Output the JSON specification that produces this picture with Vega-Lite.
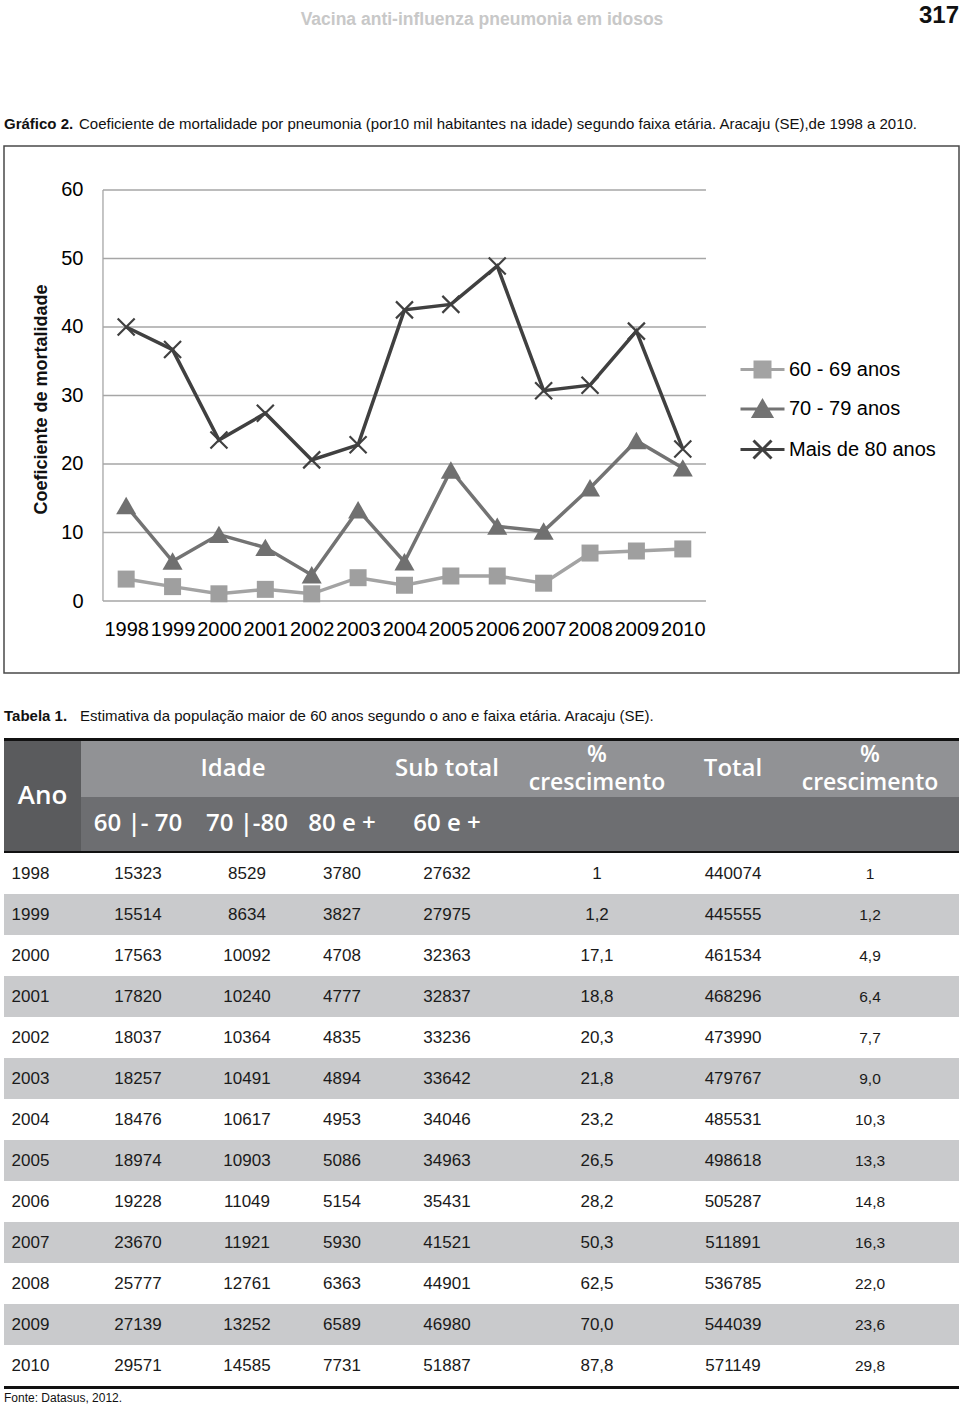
{
  "$schema": "https://vega.github.io/schema/vega-lite/v6.json",
  "background": "#ffffff",
  "padding": {"left": 3, "top": 4, "right": 2, "bottom": 0},
  "spacing": 0,
  "config": {
    "view": {"stroke": null},
    "concat": {"spacing": 0},
    "legend": {"rowPadding": 4.5, "padding": 0},
    "title": {"offset": 0, "anchor": "start", "font": "Liberation Sans", "fontSize": 15, "fontWeight": "normal", "color": "#111111"},
    "axis": {"grid": false, "ticks": false, "domain": false, "labelFont": "Liberation Sans", "labelFontSize": 20, "labelColor": "#000000"}
  },
  "datasets": {
    "serie": [
      {"ano": 1998, "grupo": "60 - 69 anos", "coef": 3.2},
      {"ano": 1999, "grupo": "60 - 69 anos", "coef": 2.1},
      {"ano": 2000, "grupo": "60 - 69 anos", "coef": 1.05},
      {"ano": 2001, "grupo": "60 - 69 anos", "coef": 1.7},
      {"ano": 2002, "grupo": "60 - 69 anos", "coef": 1.05},
      {"ano": 2003, "grupo": "60 - 69 anos", "coef": 3.4},
      {"ano": 2004, "grupo": "60 - 69 anos", "coef": 2.3},
      {"ano": 2005, "grupo": "60 - 69 anos", "coef": 3.65},
      {"ano": 2006, "grupo": "60 - 69 anos", "coef": 3.65},
      {"ano": 2007, "grupo": "60 - 69 anos", "coef": 2.6},
      {"ano": 2008, "grupo": "60 - 69 anos", "coef": 7.0},
      {"ano": 2009, "grupo": "60 - 69 anos", "coef": 7.3},
      {"ano": 2010, "grupo": "60 - 69 anos", "coef": 7.6},
      {"ano": 1998, "grupo": "70 - 79 anos", "coef": 13.9},
      {"ano": 1999, "grupo": "70 - 79 anos", "coef": 5.8},
      {"ano": 2000, "grupo": "70 - 79 anos", "coef": 9.7},
      {"ano": 2001, "grupo": "70 - 79 anos", "coef": 7.8},
      {"ano": 2002, "grupo": "70 - 79 anos", "coef": 3.8},
      {"ano": 2003, "grupo": "70 - 79 anos", "coef": 13.3},
      {"ano": 2004, "grupo": "70 - 79 anos", "coef": 5.7},
      {"ano": 2005, "grupo": "70 - 79 anos", "coef": 19.1},
      {"ano": 2006, "grupo": "70 - 79 anos", "coef": 10.9},
      {"ano": 2007, "grupo": "70 - 79 anos", "coef": 10.2},
      {"ano": 2008, "grupo": "70 - 79 anos", "coef": 16.5},
      {"ano": 2009, "grupo": "70 - 79 anos", "coef": 23.4},
      {"ano": 2010, "grupo": "70 - 79 anos", "coef": 19.4},
      {"ano": 1998, "grupo": "Mais de 80 anos", "coef": 40.0},
      {"ano": 1999, "grupo": "Mais de 80 anos", "coef": 36.7},
      {"ano": 2000, "grupo": "Mais de 80 anos", "coef": 23.5},
      {"ano": 2001, "grupo": "Mais de 80 anos", "coef": 27.4},
      {"ano": 2002, "grupo": "Mais de 80 anos", "coef": 20.6},
      {"ano": 2003, "grupo": "Mais de 80 anos", "coef": 22.8},
      {"ano": 2004, "grupo": "Mais de 80 anos", "coef": 42.5},
      {"ano": 2005, "grupo": "Mais de 80 anos", "coef": 43.3},
      {"ano": 2006, "grupo": "Mais de 80 anos", "coef": 48.9},
      {"ano": 2007, "grupo": "Mais de 80 anos", "coef": 30.7},
      {"ano": 2008, "grupo": "Mais de 80 anos", "coef": 31.5},
      {"ano": 2009, "grupo": "Mais de 80 anos", "coef": 39.4},
      {"ano": 2010, "grupo": "Mais de 80 anos", "coef": 22.2}
    ],
    "grade": [{"v": 0}, {"v": 10}, {"v": 20}, {"v": 30}, {"v": 40}, {"v": 50}, {"v": 60}],
    "crescimento": [{"rotulo": "%", "linha": 1}, {"rotulo": "crescimento", "linha": 2}],
    "tabela": [
      {"ano": 1998, "p60": "15323", "p70": "8529", "p80": "3780", "sub": "27632", "pc1": "1", "total": "440074", "pc2": "1"},
      {"ano": 1999, "p60": "15514", "p70": "8634", "p80": "3827", "sub": "27975", "pc1": "1,2", "total": "445555", "pc2": "1,2"},
      {"ano": 2000, "p60": "17563", "p70": "10092", "p80": "4708", "sub": "32363", "pc1": "17,1", "total": "461534", "pc2": "4,9"},
      {"ano": 2001, "p60": "17820", "p70": "10240", "p80": "4777", "sub": "32837", "pc1": "18,8", "total": "468296", "pc2": "6,4"},
      {"ano": 2002, "p60": "18037", "p70": "10364", "p80": "4835", "sub": "33236", "pc1": "20,3", "total": "473990", "pc2": "7,7"},
      {"ano": 2003, "p60": "18257", "p70": "10491", "p80": "4894", "sub": "33642", "pc1": "21,8", "total": "479767", "pc2": "9,0"},
      {"ano": 2004, "p60": "18476", "p70": "10617", "p80": "4953", "sub": "34046", "pc1": "23,2", "total": "485531", "pc2": "10,3"},
      {"ano": 2005, "p60": "18974", "p70": "10903", "p80": "5086", "sub": "34963", "pc1": "26,5", "total": "498618", "pc2": "13,3"},
      {"ano": 2006, "p60": "19228", "p70": "11049", "p80": "5154", "sub": "35431", "pc1": "28,2", "total": "505287", "pc2": "14,8"},
      {"ano": 2007, "p60": "23670", "p70": "11921", "p80": "5930", "sub": "41521", "pc1": "50,3", "total": "511891", "pc2": "16,3"},
      {"ano": 2008, "p60": "25777", "p70": "12761", "p80": "6363", "sub": "44901", "pc1": "62,5", "total": "536785", "pc2": "22,0"},
      {"ano": 2009, "p60": "27139", "p70": "13252", "p80": "6589", "sub": "46980", "pc1": "70,0", "total": "544039", "pc2": "23,6"},
      {"ano": 2010, "p60": "29571", "p70": "14585", "p80": "7731", "sub": "51887", "pc1": "87,8", "total": "571149", "pc2": "29,8"}
    ]
  },
  "vconcat": [
    {"hconcat": [
      {"width": 900, "height": 85, "data": {"values": []}, "mark": "point",
       "title": {"text": "Vacina anti-influenza pneumonia em idosos", "anchor": "middle", "dx": 28, "fontSize": 17.5, "fontWeight": "bold", "color": "#c8c8c8"}},
      {"width": 55, "height": 85, "data": {"values": []}, "mark": "point",
       "title": {"text": "317", "anchor": "end", "fontSize": 24, "fontWeight": "bold", "color": "#111111"}}
    ]},
    {"hconcat": [
      {"width": 75, "height": 9, "data": {"values": []}, "mark": "point", "title": {"text": "Gráfico 2.", "fontWeight": "bold"}},
      {"width": 880, "height": 9, "data": {"values": []}, "mark": "point", "title": {"text": "Coeficiente de mortalidade por pneumonia (por10 mil habitantes na idade) segundo faixa etária. Aracaju (SE),de 1998 a 2010."}}
    ]},
    {
      "width": 955, "height": 527,
      "view": {"stroke": "#4a4a4a", "strokeWidth": 1.5},
      "resolve": {"scale": {"shape": "independent", "color": "independent", "stroke": "independent"}},
      "layer": [
        {"data": {"name": "grade"}, "mark": {"type": "rule", "color": "#a6a6a6", "strokeWidth": 1.3},
         "encoding": {
           "y": {"field": "v", "type": "quantitative", "scale": {"domain": [-10.51, 66.42], "nice": false, "zero": false}},
           "x": {"datum": 1997.5, "type": "quantitative", "scale": {"domain": [1995.366, 2015.955], "nice": false, "zero": false}},
           "x2": {"datum": 2010.5}
         }},
        {"data": {"values": [{}]}, "mark": {"type": "rule", "color": "#a6a6a6", "strokeWidth": 1.3},
         "encoding": {
           "x": {"datum": 1997.5, "type": "quantitative"},
           "y": {"datum": 0, "type": "quantitative"},
           "y2": {"datum": 60}
         }},
        {"data": {"name": "serie"}, "mark": {"type": "line", "strokeWidth": 3.5},
         "encoding": {
           "x": {"field": "ano", "type": "quantitative", "scale": {"domain": [1995.366, 2015.955], "nice": false, "zero": false},
                 "axis": {"orient": "bottom", "offset": -60, "values": [1998, 1999, 2000, 2001, 2002, 2003, 2004, 2005, 2006, 2007, 2008, 2009, 2010], "format": "d", "labelPadding": 6, "labelOverlap": false, "labelFlush": false, "labelBound": false, "title": null}},
           "y": {"field": "coef", "type": "quantitative", "scale": {"domain": [-10.51, 66.42], "nice": false, "zero": false},
                 "axis": {"orient": "left", "offset": -81, "values": [0, 10, 20, 30, 40, 50, 60], "labelPadding": 2, "title": "Coeficiente de mortalidade", "titleFont": "Liberation Sans", "titleFontWeight": "bold", "titleFontSize": 18, "titleColor": "#111111", "titlePadding": 10, "titleY": 253}},
           "color": {"field": "grupo", "type": "nominal", "legend": null,
                     "scale": {"domain": ["60 - 69 anos", "70 - 79 anos", "Mais de 80 anos"], "range": ["#a3a3a3", "#737373", "#404040"]}}
         }},
        {"data": {"name": "serie"}, "transform": [{"filter": "datum.grupo !== 'Mais de 80 anos'"}],
         "mark": {"type": "point", "filled": true, "opacity": 1, "size": 289},
         "encoding": {
           "x": {"field": "ano", "type": "quantitative"},
           "y": {"field": "coef", "type": "quantitative"},
           "color": {"field": "grupo", "type": "nominal", "legend": null,
                     "scale": {"domain": ["60 - 69 anos", "70 - 79 anos", "Mais de 80 anos"], "range": ["#9f9f9f", "#707070", "#404040"]}},
           "shape": {"field": "grupo", "type": "nominal", "legend": null,
                     "scale": {"domain": ["60 - 69 anos", "70 - 79 anos", "Mais de 80 anos"], "range": ["square", "M0,-1.05L1.18,1L-1.18,1Z", "M-1,-1L1,1M-1,1L1,-1"]}}
         }},
        {"data": {"name": "serie"}, "transform": [{"filter": "datum.grupo === 'Mais de 80 anos'"}],
         "mark": {"type": "point", "filled": false, "opacity": 1, "size": 289, "strokeWidth": 2.2, "shape": "M-1,-1L1,1M-1,1L1,-1", "color": "#404040"},
         "encoding": {
           "x": {"field": "ano", "type": "quantitative"},
           "y": {"field": "coef", "type": "quantitative"}
         }},
        {"data": {"name": "serie"}, "transform": [{"filter": "false"}],
         "mark": {"type": "point", "filled": true, "opacity": 1, "strokeWidth": 3},
         "encoding": {
           "x": {"field": "ano", "type": "quantitative"},
           "y": {"field": "coef", "type": "quantitative"},
           "color": {"field": "grupo", "type": "nominal",
                     "scale": {"domain": ["60 - 69 anos", "70 - 79 anos", "Mais de 80 anos"], "range": ["#a3a3a3", "#737373", "#404040"]},
                     "legend": {"orient": "none", "legendX": 737, "legendY": 202, "title": null, "padding": 0, "rowPadding": 4.5,
                                "labelFont": "Liberation Sans", "labelFontSize": 20, "labelColor": "#000000", "labelOffset": 5, "labelLimit": 300,
                                "symbolSize": 1600, "symbolStrokeWidth": 3, "symbolOpacity": 1}},
           "stroke": {"field": "grupo", "type": "nominal",
                      "scale": {"domain": ["60 - 69 anos", "70 - 79 anos", "Mais de 80 anos"], "range": ["#a3a3a3", "#737373", "#404040"]},
                      "legend": {"orient": "none", "legendX": 737, "legendY": 202, "title": null, "padding": 0, "rowPadding": 4.5,
                                "labelFont": "Liberation Sans", "labelFontSize": 20, "labelColor": "#000000", "labelOffset": 5, "labelLimit": 300,
                                "symbolSize": 1600, "symbolStrokeWidth": 3, "symbolOpacity": 1}},
           "shape": {"field": "grupo", "type": "nominal",
                     "scale": {"domain": ["60 - 69 anos", "70 - 79 anos", "Mais de 80 anos"],
                               "range": ["M-1.1,0H1.1M-0.375,-0.375H0.375V0.375H-0.375Z", "M-1.1,0H1.1M0,-0.4L0.45,0.38L-0.45,0.38Z", "M-1.1,0H1.1M-0.45,-0.45L0.45,0.45M-0.45,0.45L0.45,-0.45"]},
                     "legend": {"orient": "none", "legendX": 737, "legendY": 202, "title": null, "padding": 0, "rowPadding": 4.5,
                                "labelFont": "Liberation Sans", "labelFontSize": 20, "labelColor": "#000000", "labelOffset": 5, "labelLimit": 300,
                                "symbolSize": 1600, "symbolStrokeWidth": 3, "symbolOpacity": 1}}
         }}
      ]
    },
    {"width": 955, "height": 35, "data": {"values": []}, "mark": "point"},
    {"hconcat": [
      {"width": 76, "height": 10, "data": {"values": []}, "mark": "point", "title": {"text": "Tabela 1.", "fontWeight": "bold"}},
      {"width": 879, "height": 10, "data": {"values": []}, "mark": "point", "title": {"text": "Estimativa da população maior de 60 anos segundo o ano e faixa etária. Aracaju (SE)."}}
    ]},
    {"width": 955, "height": 3, "view": {"fill": "#111111", "stroke": null}, "data": {"values": []}, "mark": "point"},
    {"hconcat": [
      {"width": 77, "height": 110, "view": {"fill": "#5a5b5d", "stroke": null}, "data": {"values": [{"rotulo": "Ano"}]},
       "mark": {"type": "text", "font": "Open Sans", "fontWeight": 600, "fontSize": 26, "color": "#ffffff"},
       "encoding": {"text": {"field": "rotulo", "type": "nominal"}}},
      {"vconcat": [
        {"hconcat": [
          {"width": 304, "height": 56, "view": {"fill": "#919295", "stroke": null}, "data": {"values": [{"rotulo": "Idade"}]},
           "mark": {"type": "text", "font": "Open Sans", "fontWeight": 600, "fontSize": 24, "color": "#ffffff"},
           "encoding": {"text": {"field": "rotulo", "type": "nominal"}}},
          {"width": 124, "height": 56, "view": {"fill": "#919295", "stroke": null}, "data": {"values": [{"rotulo": "Sub total"}]},
           "mark": {"type": "text", "font": "Open Sans", "fontWeight": 600, "fontSize": 24, "color": "#ffffff"},
           "encoding": {"text": {"field": "rotulo", "type": "nominal"}}},
          {"width": 176, "height": 56, "view": {"fill": "#919295", "stroke": null}, "data": {"name": "crescimento"},
           "mark": {"type": "text", "font": "Open Sans", "fontWeight": 600, "fontSize": 23, "color": "#ffffff"},
           "encoding": {"y": {"field": "linha", "type": "ordinal", "axis": null, "scale": {"paddingInner": 0, "paddingOuter": 0.1667}},
                        "text": {"field": "rotulo", "type": "nominal"}}},
          {"width": 96, "height": 56, "view": {"fill": "#919295", "stroke": null}, "data": {"values": [{"rotulo": "Total"}]},
           "mark": {"type": "text", "font": "Open Sans", "fontWeight": 600, "fontSize": 24, "color": "#ffffff"},
           "encoding": {"text": {"field": "rotulo", "type": "nominal"}}},
          {"width": 178, "height": 56, "view": {"fill": "#919295", "stroke": null}, "data": {"name": "crescimento"},
           "mark": {"type": "text", "font": "Open Sans", "fontWeight": 600, "fontSize": 23, "color": "#ffffff"},
           "encoding": {"y": {"field": "linha", "type": "ordinal", "axis": null, "scale": {"paddingInner": 0, "paddingOuter": 0.1667}},
                        "text": {"field": "rotulo", "type": "nominal"}}}
        ]},
        {"hconcat": [
          {"width": 114, "height": 54, "view": {"fill": "#6d6e71", "stroke": null}, "data": {"values": [{"rotulo": "60 |- 70"}]},
           "mark": {"type": "text", "font": "Open Sans", "fontWeight": 600, "fontSize": 24, "color": "#ffffff"},
           "encoding": {"text": {"field": "rotulo", "type": "nominal"}}},
          {"width": 104, "height": 54, "view": {"fill": "#6d6e71", "stroke": null}, "data": {"values": [{"rotulo": "70 |-80"}]},
           "mark": {"type": "text", "font": "Open Sans", "fontWeight": 600, "fontSize": 24, "color": "#ffffff"},
           "encoding": {"text": {"field": "rotulo", "type": "nominal"}}},
          {"width": 86, "height": 54, "view": {"fill": "#6d6e71", "stroke": null}, "data": {"values": [{"rotulo": "80 e +"}]},
           "mark": {"type": "text", "font": "Open Sans", "fontWeight": 600, "fontSize": 24, "color": "#ffffff"},
           "encoding": {"text": {"field": "rotulo", "type": "nominal"}}},
          {"width": 124, "height": 54, "view": {"fill": "#6d6e71", "stroke": null}, "data": {"values": [{"rotulo": "60 e +"}]},
           "mark": {"type": "text", "font": "Open Sans", "fontWeight": 600, "fontSize": 24, "color": "#ffffff"},
           "encoding": {"text": {"field": "rotulo", "type": "nominal"}}},
          {"width": 450, "height": 54, "view": {"fill": "#6d6e71", "stroke": null}, "data": {"values": []}, "mark": "point"}
        ]}
      ]}
    ]},
    {"width": 955, "height": 2, "view": {"fill": "#111111", "stroke": null}, "data": {"values": []}, "mark": "point"},
    {"hconcat": [
      {"width": 77, "height": 533, "data": {"name": "tabela"}, "layer": [
        {"mark": "rect", "encoding": {"y": {"field": "ano", "type": "ordinal", "axis": null, "scale": {"paddingInner": 0, "paddingOuter": 0}}, "fill": {"condition": {"test": "datum.ano % 2 === 1", "value": "#c9cacc"}, "value": "#ffffff"}}},
        {"mark": {"type": "text", "font": "Liberation Sans", "fontSize": 17, "color": "#1a1a1a", "dx": -12}, "encoding": {"y": {"field": "ano", "type": "ordinal", "axis": null}, "text": {"field": "ano", "type": "nominal"}}}
      ]},
      {"width": 114, "height": 533, "data": {"name": "tabela"}, "layer": [
        {"mark": "rect", "encoding": {"y": {"field": "ano", "type": "ordinal", "axis": null, "scale": {"paddingInner": 0, "paddingOuter": 0}}, "fill": {"condition": {"test": "datum.ano % 2 === 1", "value": "#c9cacc"}, "value": "#ffffff"}}},
        {"mark": {"type": "text", "font": "Liberation Sans", "fontSize": 17, "color": "#1a1a1a"}, "encoding": {"y": {"field": "ano", "type": "ordinal", "axis": null}, "text": {"field": "p60", "type": "nominal"}}}
      ]},
      {"width": 104, "height": 533, "data": {"name": "tabela"}, "layer": [
        {"mark": "rect", "encoding": {"y": {"field": "ano", "type": "ordinal", "axis": null, "scale": {"paddingInner": 0, "paddingOuter": 0}}, "fill": {"condition": {"test": "datum.ano % 2 === 1", "value": "#c9cacc"}, "value": "#ffffff"}}},
        {"mark": {"type": "text", "font": "Liberation Sans", "fontSize": 17, "color": "#1a1a1a"}, "encoding": {"y": {"field": "ano", "type": "ordinal", "axis": null}, "text": {"field": "p70", "type": "nominal"}}}
      ]},
      {"width": 86, "height": 533, "data": {"name": "tabela"}, "layer": [
        {"mark": "rect", "encoding": {"y": {"field": "ano", "type": "ordinal", "axis": null, "scale": {"paddingInner": 0, "paddingOuter": 0}}, "fill": {"condition": {"test": "datum.ano % 2 === 1", "value": "#c9cacc"}, "value": "#ffffff"}}},
        {"mark": {"type": "text", "font": "Liberation Sans", "fontSize": 17, "color": "#1a1a1a"}, "encoding": {"y": {"field": "ano", "type": "ordinal", "axis": null}, "text": {"field": "p80", "type": "nominal"}}}
      ]},
      {"width": 124, "height": 533, "data": {"name": "tabela"}, "layer": [
        {"mark": "rect", "encoding": {"y": {"field": "ano", "type": "ordinal", "axis": null, "scale": {"paddingInner": 0, "paddingOuter": 0}}, "fill": {"condition": {"test": "datum.ano % 2 === 1", "value": "#c9cacc"}, "value": "#ffffff"}}},
        {"mark": {"type": "text", "font": "Liberation Sans", "fontSize": 17, "color": "#1a1a1a"}, "encoding": {"y": {"field": "ano", "type": "ordinal", "axis": null}, "text": {"field": "sub", "type": "nominal"}}}
      ]},
      {"width": 176, "height": 533, "data": {"name": "tabela"}, "layer": [
        {"mark": "rect", "encoding": {"y": {"field": "ano", "type": "ordinal", "axis": null, "scale": {"paddingInner": 0, "paddingOuter": 0}}, "fill": {"condition": {"test": "datum.ano % 2 === 1", "value": "#c9cacc"}, "value": "#ffffff"}}},
        {"mark": {"type": "text", "font": "Liberation Sans", "fontSize": 17, "color": "#1a1a1a"}, "encoding": {"y": {"field": "ano", "type": "ordinal", "axis": null}, "text": {"field": "pc1", "type": "nominal"}}}
      ]},
      {"width": 96, "height": 533, "data": {"name": "tabela"}, "layer": [
        {"mark": "rect", "encoding": {"y": {"field": "ano", "type": "ordinal", "axis": null, "scale": {"paddingInner": 0, "paddingOuter": 0}}, "fill": {"condition": {"test": "datum.ano % 2 === 1", "value": "#c9cacc"}, "value": "#ffffff"}}},
        {"mark": {"type": "text", "font": "Liberation Sans", "fontSize": 17, "color": "#1a1a1a"}, "encoding": {"y": {"field": "ano", "type": "ordinal", "axis": null}, "text": {"field": "total", "type": "nominal"}}}
      ]},
      {"width": 178, "height": 533, "data": {"name": "tabela"}, "layer": [
        {"mark": "rect", "encoding": {"y": {"field": "ano", "type": "ordinal", "axis": null, "scale": {"paddingInner": 0, "paddingOuter": 0}}, "fill": {"condition": {"test": "datum.ano % 2 === 1", "value": "#c9cacc"}, "value": "#ffffff"}}},
        {"mark": {"type": "text", "font": "Liberation Sans", "fontSize": 15.5, "color": "#1a1a1a"}, "encoding": {"y": {"field": "ano", "type": "ordinal", "axis": null}, "text": {"field": "pc2", "type": "nominal"}}}
      ]}
    ]},
    {"width": 955, "height": 3, "view": {"fill": "#111111", "stroke": null}, "data": {"values": []}, "mark": "point"},
    {"width": 955, "height": 3, "data": {"values": []}, "mark": "point"},
    {"width": 955, "height": 1, "data": {"values": []}, "mark": "point", "title": {"text": "Fonte: Datasus, 2012.", "fontSize": 12}}
  ]
}
